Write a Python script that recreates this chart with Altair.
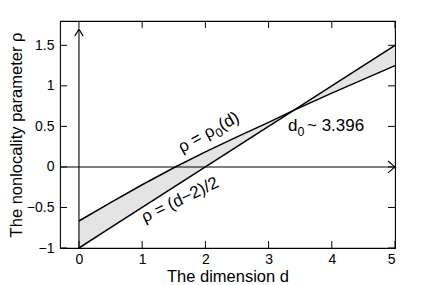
import altair as alt
import pandas as pd

# Data
d_vals = [0, 0.5, 1, 1.5, 2, 2.5, 3, 3.396, 4, 4.5, 5]
rho0_vals = [-0.667, -0.44, -0.22, -0.01, 0.185, 0.37, 0.55, 0.698, 0.91, 1.08, 1.25]
rho_lin_vals = [-1, -0.75, -0.5, -0.25, 0, 0.25, 0.5, 0.698, 1, 1.25, 1.5]

x_ticks = [0, 1, 2, 3, 4, 5]
y_ticks = [-1, -0.5, 0, 0.5, 1, 1.5]
x_domain = [-0.3, 5]
y_domain = [-1, 1.8]
arrow_top = 1.70

FONT = "Liberation Sans"
TFS = 16.5   # axis titles
LFS = 14     # tick labels
AFS = 17     # annotations
SFS = 12.5   # subscripts

# annotation pieces: anchor (d, r), text, angle, size, dx, dy
ann = [
    {"d": 1.630, "r": 0.171, "t": "ρ = ρ", "a": 331, "s": AFS, "dx": 0, "dy": 0},
    {"d": 1.630, "r": 0.171, "t": "0", "a": 331, "s": SFS, "dx": 39.0, "dy": 4.5},
    {"d": 1.630, "r": 0.171, "t": "(d)", "a": 331, "s": AFS, "dx": 46.0, "dy": 0},
    {"d": 1.04, "r": -0.69, "t": "ρ = (d−2)/2", "a": 334, "s": AFS, "dx": 0, "dy": 0},
    {"d": 3.307, "r": 0.443, "t": "d", "a": 0, "s": AFS, "dx": 0, "dy": 0},
    {"d": 3.307, "r": 0.443, "t": "0", "a": 0, "s": SFS, "dx": 9.5, "dy": 5},
    {"d": 3.307, "r": 0.443, "t": " ~ 3.396", "a": 0, "s": AFS, "dx": 19, "dy": 0},
]

df = pd.DataFrame({"d": d_vals, "rho0": rho0_vals, "lin": rho_lin_vals})

xs = alt.Scale(domain=x_domain, nice=False, zero=False)
ys = alt.Scale(domain=y_domain, nice=False, zero=False)

xax = alt.Axis(values=x_ticks, format="~g", tickSize=0, domain=False, grid=False, labelPadding=4,
               title="The dimension d", titleY=33, titleBaseline="alphabetic",
               labelFontSize=LFS, titleFontSize=TFS,
               labelFont=FONT, titleFont=FONT, titleFontWeight="normal", labelColor="black",
               titleColor="black")
yax = alt.Axis(values=y_ticks, format="~g", tickSize=0, domain=False, grid=False, labelPadding=6,
               title="The nonlocality parameter ρ", titleX=-39, titleY=113.5,
               titleBaseline="alphabetic", labelFontSize=LFS,
               titleFontSize=TFS, labelFont=FONT, titleFont=FONT, titleFontWeight="normal",
               labelColor="black", titleColor="black")

base = alt.Chart(df)

area = base.mark_area(color="#e4e4e4", opacity=1).encode(
    x=alt.X("d:Q", scale=xs, axis=xax),
    y=alt.Y("rho0:Q", scale=ys, axis=yax),
    y2="lin:Q",
)
line0 = base.mark_line(color="black", strokeWidth=1.5).encode(x="d:Q", y="rho0:Q")
line1 = base.mark_line(color="black", strokeWidth=1.5).encode(x="d:Q", y="lin:Q")

vline = alt.Chart(pd.DataFrame({"x": [0], "y": [y_domain[0]], "y2": [arrow_top]})).mark_rule(
    color="black", strokeWidth=1.1).encode(x="x:Q", y="y:Q", y2="y2:Q")
hline = alt.Chart(pd.DataFrame({"x": [x_domain[0]], "x2": [x_domain[1]], "y": [0]})).mark_rule(
    color="black", strokeWidth=1.1).encode(x="x:Q", x2="x2:Q", y="y:Q")

up_arrow = alt.Chart(pd.DataFrame({"x": [0], "y": [arrow_top]})).mark_point(
    shape="M -0.6 1 L 0 0 L 0.6 1", filled=False, color="black", strokeWidth=1.1, size=196,
    opacity=1).encode(x="x:Q", y="y:Q")
right_arrow = alt.Chart(pd.DataFrame({"x": [x_domain[1]], "y": [0]})).mark_point(
    shape="M -1 -0.85 L 0 0 L -1 0.85", filled=False, color="black", strokeWidth=1.1, size=196,
    opacity=1).encode(x="x:Q", y="y:Q")

tdf_x = pd.DataFrame({"x": x_ticks})
tdf_y = pd.DataFrame({"y": y_ticks})
tick_b = alt.Chart(tdf_x).mark_tick(orient="vertical", size=7, thickness=1, color="black",
                                    yOffset=-3.5, opacity=1).encode(
    x="x:Q", y=alt.datum(y_domain[0]))
tick_t = alt.Chart(tdf_x).mark_tick(orient="vertical", size=7, thickness=1, color="black",
                                    yOffset=3.5, opacity=1).encode(
    x="x:Q", y=alt.datum(y_domain[1]))
tick_l = alt.Chart(tdf_y).mark_tick(orient="horizontal", size=7, thickness=1, color="black",
                                    xOffset=3.5, opacity=1).encode(
    y="y:Q", x=alt.datum(x_domain[0]))
tick_r = alt.Chart(tdf_y).mark_tick(orient="horizontal", size=7, thickness=1, color="black",
                                    xOffset=-3.5, opacity=1).encode(
    y="y:Q", x=alt.datum(x_domain[1]))

text_layers = []
for a in ann:
    text_layers.append(
        alt.Chart(pd.DataFrame([a])).mark_text(
            font=FONT, fontSize=a["s"], fill="black", align="left", baseline="alphabetic",
            angle=a["a"], dx=a["dx"], dy=a["dy"]).encode(
            x="d:Q", y="r:Q", text="t:N", color=alt.value("black"))
    )

chart = alt.layer(area, line0, line1, vline, hline, up_arrow, right_arrow,
                  tick_b, tick_t, tick_l, tick_r, *text_layers).properties(
    width=335, height=227,
    autosize=alt.AutoSizeParams(type="none"),
    padding={"left": 52, "top": 13, "right": 30, "bottom": 37},
).configure_view(stroke="black", strokeWidth=1.1)

chart.save("out.html", embed_options={"renderer": "svg", "actions": False})
